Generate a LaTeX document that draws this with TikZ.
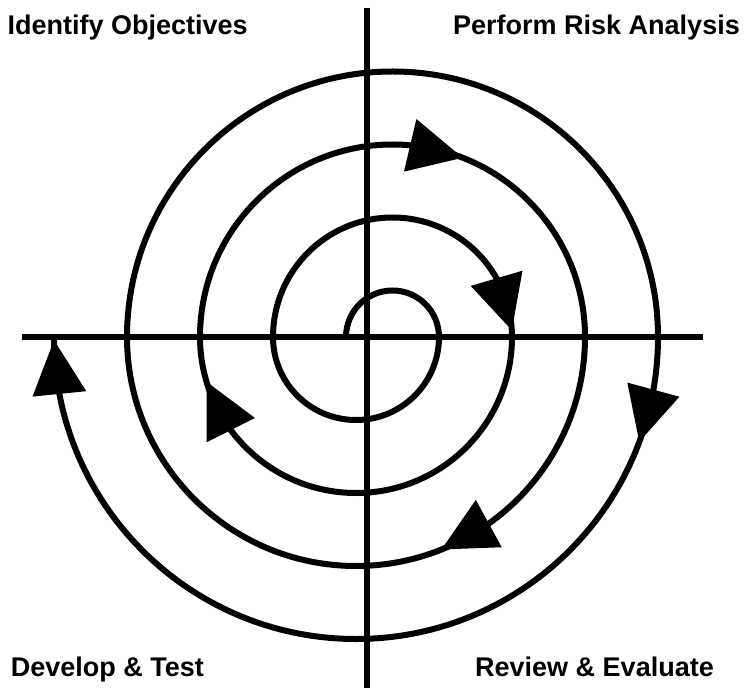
\documentclass[tikz,border=0pt]{standalone}
\usepackage{fontspec}
\setmainfont{Liberation Sans}
\usetikzlibrary{calc}
\tikzset{
  axisline/.style={line width=6.5pt, black},
  spiralline/.style={line width=6pt, black},
  headfill/.style={fill=black},
  label/.style={inner sep=0pt, font=\fontsize{27pt}{31pt}\selectfont\bfseries},
}
\newcommand{\spiralhead}[4]{%
  \path (#1) ++({#3}:#2pt) coordinate (#4-tip);
  \pgfmathsetmacro\hdlt{2*asin(27/#2)}
  \path (#1) ++({#3+\hdlt}:#2pt) coordinate (#4-back);
  \fill[headfill] ($(#4-back)!27pt!90:(#4-tip)$) -- (#4-tip) -- ($(#4-back)!27pt!-90:(#4-tip)$) -- cycle;
}
\begin{document}
\begin{tikzpicture}[x=1pt,y=1pt]
\useasboundingbox (0,0) rectangle (746,697);
% centres
\coordinate (cu) at (392.5,360);
\coordinate (cl) at (356,360);
\coordinate (vtop) at (367,689);
\coordinate (vbot) at (367,9);
\coordinate (hleft) at (22,360);
\coordinate (hright) at (703,360);
\coordinate (start) at (346,360);
% axes
\draw[axisline] (vtop) -- (vbot);
\draw[axisline] (hleft) -- (hright);
% spiral
\draw[spiralline] (start)
  arc[start angle=180, end angle=0,    radius=46.5pt]
  arc[start angle=0,   end angle=-180, radius=83pt]
  arc[start angle=180, end angle=0,    radius=119.5pt]
  arc[start angle=0,   end angle=-180, radius=156pt]
  arc[start angle=180, end angle=0,    radius=192.5pt]
  arc[start angle=0,   end angle=-180, radius=229pt]
  arc[start angle=180, end angle=0,    radius=265.5pt]
  arc[start angle=0,   end angle=-180, radius=302pt];
% arrow heads
\spiralhead{cu}{192.5}{68.6}{ha}
\spiralhead{cu}{119.5}{3.3}{hb}
\spiralhead{cl}{302}{-20.3}{hc}
\spiralhead{cl}{229}{-68.1}{hd}
\spiralhead{cl}{156}{-163.3}{he}
\spiralhead{cl}{302}{-179.4}{hf}
% labels
\node[label, anchor=base west] (obj) at (7.5,662) {Identify Objectives};
\node[label, anchor=base west] (risk) at (453,662) {Perform Risk Analysis};
\node[label, anchor=base west] (dev) at (10.7,21) {Develop \& Test};
\node[label, anchor=base west] (rev) at (475,21) {Review \& Evaluate};
\end{tikzpicture}
\end{document}
